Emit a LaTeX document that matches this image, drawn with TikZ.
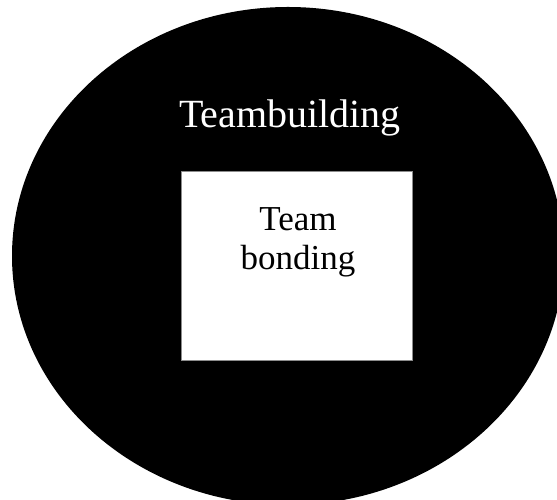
\documentclass[tikz,border=0pt]{standalone}
\usepackage{fontspec}
\setmainfont{Liberation Serif}
\usetikzlibrary{shapes.geometric}
\begin{document}
\begin{tikzpicture}[x=1pt,y=1pt,
  outer/.style={ellipse, fill=black, draw=none, inner sep=0pt, minimum width=552pt, minimum height=498pt},
  innerbox/.style={rectangle, fill=white, draw=black!45, line width=0.8pt, inner sep=0pt, minimum width=231pt, minimum height=189pt},
  bigtext/.style={font=\fontsize{40}{48}\selectfont, inner sep=0pt, anchor=base},
  boxtext/.style={font=\fontsize{35}{39}\selectfont, inner sep=0pt, anchor=base, align=center}
]
\useasboundingbox (0,0) rectangle (557,500);
\clip (0,0) rectangle (557,500);
\node[outer] (team) at (288,244) {};
\node[innerbox] (bond) at (296.5,234.5) {};
\node[bigtext, text=white] (tlabel) at (290,372) {Teambuilding};
\node[boxtext, text=black] (blabel) at (298,230) {Team\\bonding};
\end{tikzpicture}
\end{document}
